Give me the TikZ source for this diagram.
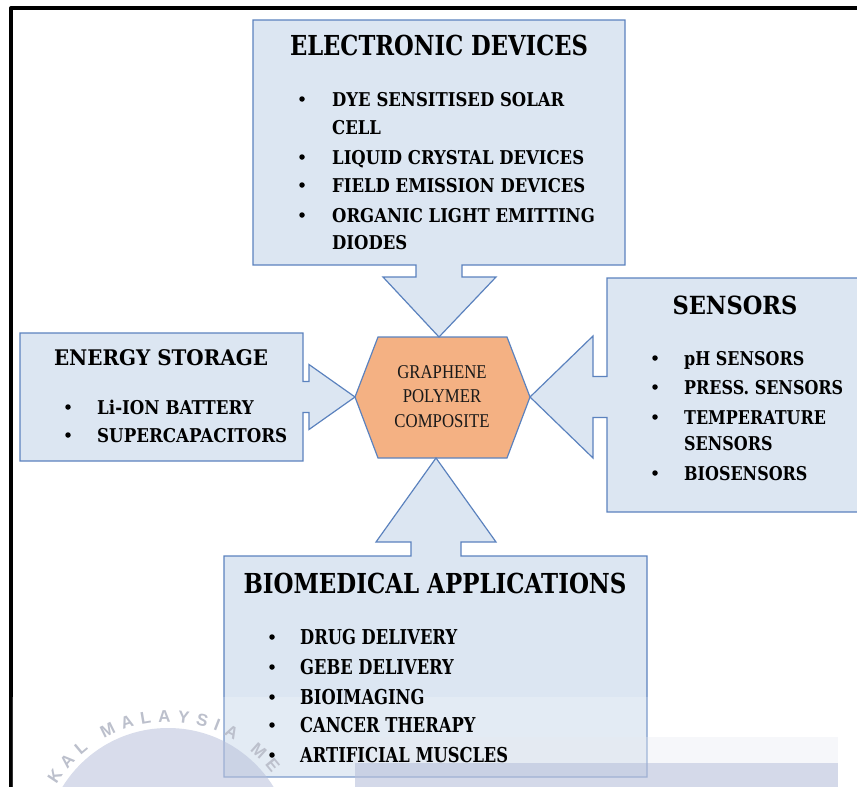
\documentclass[tikz,border=0pt]{standalone}
\usepackage{fontspec}
\setmainfont{Liberation Serif}
\newfontfamily\headfont{DejaVu Serif}
\newfontfamily\hexfont{Liberation Serif}
\newfontfamily\sealfont{Liberation Sans}
\usetikzlibrary{decorations.text}

\definecolor{panelfill}{HTML}{DCE6F2}
\definecolor{panelline}{HTML}{5B82BE}
\definecolor{hexfill}{HTML}{F4B183}
\definecolor{sealblue}{HTML}{B8C0DA}
\definecolor{sealtext}{HTML}{BCC0CC}
\definecolor{bandgrey}{HTML}{E6E9F0}

% horizontal squeeze of a label
\newcommand\sqz[2]{\scalebox{#1}[1]{#2}}
% factor that brings a sample text to a given width
\newsavebox\fitbox
\newcommand\getsq[3]{\sbox\fitbox{#3}\xdef#1{\fpeval{#2/\the\wd\fitbox}}}

\newcommand\edtitlefont{\fontsize{27.5}{30}\selectfont\headfont\bfseries}
\newcommand\estitlefont{\fontsize{21.5}{24}\selectfont\headfont\bfseries}
\newcommand\sntitlefont{\fontsize{25}{28}\selectfont\headfont\bfseries}
\newcommand\bmtitlefont{\fontsize{27.5}{30}\selectfont\headfont\bfseries}
\newcommand\listfont{\fontsize{19}{22}\selectfont\headfont\bfseries}
\newcommand\biolistfont{\fontsize{20.5}{24}\selectfont\headfont\bfseries}

\begin{document}
\getsq\sqedt{298}{\edtitlefont ELECTRONIC DEVICES}%
\getsq\sqest{214}{\estitlefont ENERGY STORAGE}%
\getsq\sqsnt{125}{\sntitlefont SENSORS}%
\getsq\sqbmt{383}{\bmtitlefont BIOMEDICAL APPLICATIONS}%
\getsq\sqed{252}{\listfont LIQUID CRYSTAL DEVICES}%
\getsq\sqes{190}{\listfont SUPERCAPACITORS}%
\getsq\sqsn{159}{\listfont PRESS. SENSORS}%
\getsq\sqbm{208}{\biolistfont ARTIFICIAL MUSCLES}%
\begin{tikzpicture}[x=1pt,y=-1pt,
  panel/.style={draw=panelline, fill=panelfill, line width=1.2pt, line join=miter},
  heading/.style={anchor=base, inner sep=0pt, text=black},
  entry/.style={anchor=base west, inner sep=0pt, text=black, font=\listfont},
  bioentry/.style={entry, font=\biolistfont},
  dot/.style={circle, fill=black, inner sep=0pt, minimum size=5.5pt},
]
\useasboundingbox (0,0) rectangle (857,787);

% outer frame (top and left sides)
\draw[line width=3.3pt, line join=round] (11,787) -- (11,8) -- (857,8);

% ---------- shapes ----------
\coordinate (hxtl) at (378,337);
\coordinate (hxtr) at (507,337);
\coordinate (hxr)  at (530,397);
\coordinate (hxbr) at (507,458);
\coordinate (hxbl) at (378,458);
\coordinate (hxl)  at (355,397);
\coordinate (edtip) at (439,337);
\coordinate (bmtip) at (436,458);

% central hexagon
\draw[draw=panelline, fill=hexfill, line width=1.2pt]
  (hxtl) -- (hxtr) -- (hxr) -- (hxbr) -- (hxbl) -- (hxl) -- cycle;
% electronic devices, arrow down
\draw[panel] (253,20) -- (625,20) -- (625,265) -- (462,265) -- (462,277)
  -- (496,277) -- (edtip) -- (383,277) -- (416,277) -- (416,265)
  -- (253,265) -- cycle;
% energy storage, arrow right
\draw[panel] (20,333) -- (303,333) -- (303,381.5) -- (309,381.5) -- (309,364.5)
  -- (hxl) -- (309,429.5) -- (309,412.5) -- (303,412.5) -- (303,461)
  -- (20,461) -- cycle;
% sensors, arrow left
\draw[panel] (607,278) -- (859,278) -- (859,512) -- (607,512) -- (607,417.5)
  -- (593,417.5) -- (593,458) -- (hxr) -- (593,336) -- (593,376.5)
  -- (607,376.5) -- cycle;
% biomedical applications, arrow up
\draw[panel] (224,556) -- (411,556) -- (411,542) -- (376,542) -- (bmtip)
  -- (496,542) -- (461,542) -- (461,556) -- (647,556) -- (647,777)
  -- (224,777) -- cycle;

% ---------- faint seal watermark over the lower edge ----------
\fill[white, opacity=0.2] (12,697) rectangle (857,787);
\fill[bandgrey, opacity=0.35] (355,737) rectangle (838,763);
\fill[sealblue, opacity=0.6] (355,763) rectangle (838,787);
\fill[sealblue, opacity=0.55] (168,852) circle (124);
\begin{scope}[shift={(168,852)}, y=1pt]
  \path[decorate, decoration={text along path, text align={fit to path},
        text={|\fontsize{17}{17}\selectfont\sealfont\bfseries\color{sealtext}|KAL MALAYSIA ME}}]
    (149:130) arc (149:37:130);
\end{scope}

% ---------- labels ----------
\node[inner sep=0pt, text=black!90] (hexlabel) at (442,398)
  {\fontsize{19.5}{24.5}\selectfont\hexfont
   \sqz{0.86}{\begin{tabular}{@{}c@{}}GRAPHENE\\POLYMER\\COMPOSITE\end{tabular}}};

\node[heading] (edtitle) at (439,55) {\edtitlefont\sqz{\sqedt}{ELECTRONIC DEVICES}};
\node[dot] (edb1) at (302,99) {};
\node[entry] (ed1) at (332,106) {\sqz{\sqed}{DYE SENSITISED SOLAR}};
\node[entry] (ed1b) at (332,134) {\sqz{\sqed}{CELL}};
\node[dot] (edb2) at (302,157) {};
\node[entry] (ed2) at (332,164) {\sqz{\sqed}{LIQUID CRYSTAL DEVICES}};
\node[dot] (edb3) at (302,185) {};
\node[entry] (ed3) at (332,192) {\sqz{\sqed}{FIELD EMISSION DEVICES}};
\node[dot] (edb4) at (302,215) {};
\node[entry] (ed4) at (332,222) {\sqz{\sqed}{ORGANIC LIGHT EMITTING}};
\node[entry] (ed4b) at (332,249) {\sqz{\sqed}{DIODES}};

\node[heading] (estitle) at (161,365) {\estitlefont\sqz{\sqest}{ENERGY STORAGE}};
\node[dot] (esb1) at (68,407) {};
\node[entry] (es1) at (97,414) {\sqz{\sqes}{Li-ION BATTERY}};
\node[dot] (esb2) at (68,435) {};
\node[entry] (es2) at (97,442) {\sqz{\sqes}{SUPERCAPACITORS}};

\node[heading] (sntitle) at (735,314) {\sntitlefont\sqz{\sqsnt}{SENSORS}};
\node[dot] (snb1) at (655,358) {};
\node[entry] (sn1) at (684,365) {\sqz{\sqsn}{pH SENSORS}};
\node[dot] (snb2) at (655,387) {};
\node[entry] (sn2) at (684,394) {\sqz{\sqsn}{PRESS. SENSORS}};
\node[dot] (snb3) at (655,417) {};
\node[entry] (sn3) at (684,424) {\sqz{\sqsn}{TEMPERATURE}};
\node[entry] (sn3b) at (684,450) {\sqz{\sqsn}{SENSORS}};
\node[dot] (snb4) at (655,473) {};
\node[entry] (sn4) at (684,480) {\sqz{\sqsn}{BIOSENSORS}};

\node[heading] (bmtitle) at (435,593) {\bmtitlefont\sqz{\sqbmt}{BIOMEDICAL APPLICATIONS}};
\node[dot] (bmb1) at (272,637) {};
\node[bioentry] (bm1) at (300,644.5) {\sqz{\sqbm}{DRUG DELIVERY}};
\node[dot] (bmb2) at (272,667) {};
\node[bioentry] (bm2) at (300,674.5) {\sqz{\sqbm}{GEBE DELIVERY}};
\node[dot] (bmb3) at (272,697) {};
\node[bioentry] (bm3) at (300,704.5) {\sqz{\sqbm}{BIOIMAGING}};
\node[dot] (bmb4) at (272,725) {};
\node[bioentry] (bm4) at (300,732.5) {\sqz{\sqbm}{CANCER THERAPY}};
\node[dot] (bmb5) at (272,755) {};
\node[bioentry] (bm5) at (300,762.5) {\sqz{\sqbm}{ARTIFICIAL MUSCLES}};
\end{tikzpicture}
\end{document}
